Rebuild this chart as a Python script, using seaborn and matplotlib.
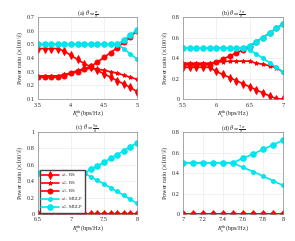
import matplotlib
matplotlib.use("Agg")
import matplotlib.pyplot as plt
import seaborn as sns
import numpy as np

sns.set_style("whitegrid")
plt.rcParams['font.family'] = ['Liberation Serif', 'DejaVu Serif']
plt.rcParams['mathtext.fontset'] = 'stix'

# panel (a)
xa = [3.5, 3.6, 3.7, 3.8, 3.9, 4.0, 4.1, 4.2, 4.3, 4.4, 4.5, 4.6, 4.7, 4.8, 4.9, 5.0]
a_rs1 = [0.47, 0.47, 0.47, 0.47, 0.45, 0.42, 0.39, 0.36, 0.335, 0.31, 0.285, 0.26, 0.235, 0.21, 0.185, 0.155]
a_rs2 = [0.27, 0.27, 0.27, 0.27, 0.28, 0.29, 0.31, 0.32, 0.325, 0.32, 0.31, 0.30, 0.29, 0.275, 0.26, 0.245]
a_rs3 = [0.26, 0.26, 0.26, 0.26, 0.27, 0.29, 0.30, 0.32, 0.34, 0.37, 0.405, 0.44, 0.475, 0.515, 0.555, 0.60]
a_mu1 = [0.5, 0.5, 0.5, 0.5, 0.5, 0.5, 0.5, 0.5, 0.5, 0.5, 0.5, 0.5, 0.5, 0.47, 0.43, 0.395]
a_mu2 = [0.5, 0.5, 0.5, 0.5, 0.5, 0.5, 0.5, 0.5, 0.5, 0.5, 0.5, 0.5, 0.5, 0.53, 0.57, 0.605]

# panel (b)
xb = [5.5, 5.6, 5.7, 5.8, 5.9, 6.0, 6.1, 6.2, 6.3, 6.4, 6.5, 6.6, 6.7, 6.8, 6.9, 7.0]
b_rs1 = [0.31, 0.31, 0.31, 0.31, 0.31, 0.27, 0.24, 0.21, 0.18, 0.15, 0.12, 0.09, 0.06, 0.03, 0.005, 0.0]
b_rs2 = [0.35, 0.35, 0.35, 0.35, 0.35, 0.36, 0.365, 0.37, 0.37, 0.37, 0.37, 0.35, 0.34, 0.325, 0.305, 0.265]
b_rs3 = [0.335, 0.335, 0.335, 0.335, 0.335, 0.36, 0.39, 0.42, 0.45, 0.48, 0.51, 0.56, 0.60, 0.645, 0.69, 0.735]
b_mu1 = [0.5, 0.5, 0.5, 0.5, 0.5, 0.5, 0.5, 0.5, 0.5, 0.5, 0.48, 0.44, 0.40, 0.355, 0.31, 0.265]
b_mu2 = [0.5, 0.5, 0.5, 0.5, 0.5, 0.5, 0.5, 0.5, 0.5, 0.5, 0.52, 0.56, 0.60, 0.645, 0.69, 0.735]

# panel (c)
xc = [6.5, 6.6, 6.7, 6.8, 6.9, 7.0, 7.1, 7.2, 7.3, 7.4, 7.5, 7.6, 7.7, 7.8, 7.9, 8.0]
c_rs = [0.0] * 16
c_mu1 = [0.5, 0.5, 0.5, 0.5, 0.5, 0.5, 0.5, 0.5, 0.455, 0.41, 0.37, 0.32, 0.275, 0.23, 0.18, 0.13]
c_mu2 = [0.5, 0.5, 0.5, 0.5, 0.5, 0.5, 0.5, 0.5, 0.545, 0.59, 0.63, 0.68, 0.725, 0.77, 0.82, 0.87]

# panel (d)
xd = [7.0, 7.1, 7.2, 7.3, 7.4, 7.5, 7.6, 7.7, 7.8, 7.9, 8.0]
d_rs = [0.0] * 11
d_mu1 = [0.5, 0.5, 0.5, 0.5, 0.5, 0.5, 0.455, 0.415, 0.37, 0.325, 0.28]
d_mu2 = [0.5, 0.5, 0.5, 0.5, 0.5, 0.5, 0.545, 0.585, 0.63, 0.675, 0.72]

labels = ["$a_{1c}$ RS", "$a_{2c}$ RS", "$a_{3c}$ RS", "$a_{1c}$ MULP", "$a_{2c}$ MULP"]
titles = [r"(a) $\theta=\frac{\pi}{8}$", r"(b) $\theta=\frac{3\pi}{8}$",
          r"(c) $\theta=\frac{5\pi}{8}$", r"(d) $\theta=\frac{7\pi}{8}$"]

RED = "#ff0000"
CYAN = "#00e5ee"
styles = [
    dict(color=RED, marker="d", markersize=3.8),
    dict(color=RED, marker="*", markersize=3.2),
    dict(color=RED, marker="o", markersize=3.6),
    dict(color=CYAN, marker="o", markersize=2.8),
    dict(color=CYAN, marker="o", markersize=4.0),
]

panels = [
    (xa, [a_rs1, a_rs2, a_rs3, a_mu1, a_mu2], (3.5, 5), (0.1, 0.7), [3.5, 4, 4.5, 5], np.arange(0.1, 0.71, 0.1)),
    (xb, [b_rs1, b_rs2, b_rs3, b_mu1, b_mu2], (5.5, 7), (0, 0.8), [5.5, 6, 6.5, 7], [0, 0.2, 0.4, 0.6, 0.8]),
    (xc, [c_rs, c_rs, c_rs, c_mu1, c_mu2], (6.5, 8), (0, 1), [6.5, 7, 7.5, 8], [0, 0.2, 0.4, 0.6, 0.8, 1]),
    (xd, [d_rs, d_rs, d_rs, d_mu1, d_mu2], (7, 8), (0, 0.8), [7, 7.2, 7.4, 7.6, 7.8, 8], [0, 0.2, 0.4, 0.6, 0.8]),
]

positions = [
    [0.129, 0.589, 0.335, 0.340],
    [0.620, 0.589, 0.339, 0.340],
    [0.129, 0.112, 0.335, 0.340],
    [0.620, 0.112, 0.339, 0.340],
]

fig = plt.figure(figsize=(2.95, 2.41), dpi=100)

for i, (x, series, xlim, ylim, xt, yt) in enumerate(panels):
    ax = fig.add_axes(positions[i])
    for j, y in enumerate(series):
        sns.lineplot(x=x, y=y, ax=ax, label=labels[j], linewidth=1.2,
                     markeredgewidth=0.7, markeredgecolor=styles[j]["color"], **styles[j])
    ax.set_xlim(*xlim)
    ax.set_ylim(*ylim)
    ax.set_xticks(xt)
    ax.set_yticks(yt)
    ax.set_xticklabels([f"{v:g}" for v in xt])
    ax.set_yticklabels([f"{v:g}" for v in yt])
    ax.tick_params(labelsize=4.5, length=1.5, pad=1, colors="#262626")
    ax.grid(True, color="#e6e6e6", linewidth=0.4)
    for s in ax.spines.values():
        s.set_color("#888888")
        s.set_linewidth(0.5)
    ax.set_title(titles[i], fontsize=4.5, pad=1.5)
    ax.set_xlabel(r"$R_s^{\rm th}$(bps/Hz)", fontsize=4.5, labelpad=0.5)
    ax.set_ylabel(r"Power ratio ($\times 100\%$)", fontsize=4.5, labelpad=1)
    if i == 2:
        ax.legend(loc="lower left", fontsize=3.5, frameon=True, framealpha=1,
                  edgecolor="#444444", borderpad=0.25, labelspacing=0.1,
                  handlelength=3.8, handletextpad=0.4, borderaxespad=0.3, fancybox=False)
    else:
        ax.get_legend().remove()

fig.savefig("out.png", dpi=100)
